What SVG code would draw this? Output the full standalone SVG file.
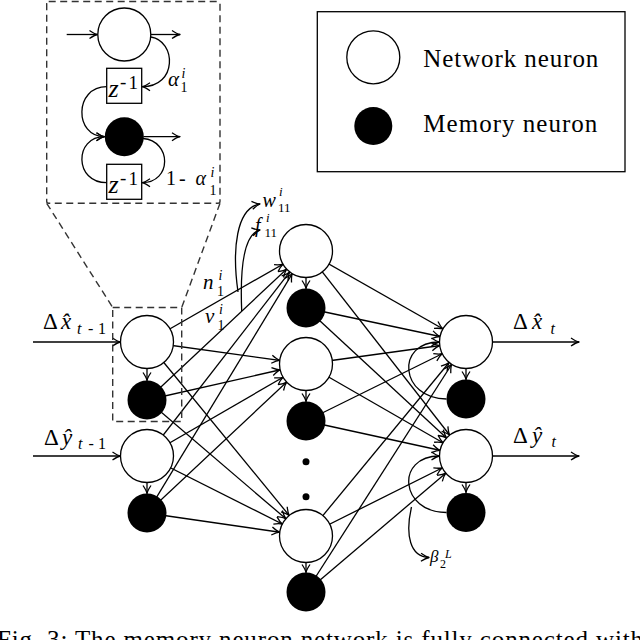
<svg xmlns="http://www.w3.org/2000/svg" width="640" height="640" viewBox="0 0 640 640">
<defs>
<style>
.ln{stroke:#000;stroke-width:1.3;fill:none}
.nn{fill:#fff;stroke:#000;stroke-width:1.3}
.mn{fill:#000}
.dash{stroke:#333;stroke-width:1.4;fill:none;stroke-dasharray:7 4.5}
.t{font-family:"Liberation Serif","Times New Roman",serif;fill:#000}
.i{font-style:italic}
</style>
<marker id="a" markerUnits="userSpaceOnUse" viewBox="-10 -6 12 12" markerWidth="12" markerHeight="12" refX="0" refY="0" orient="auto" overflow="visible">
<path d="M-8,-4 Q-3,-0.6 0,0 Q-3,0.6 -8,4" fill="none" stroke="#000" stroke-width="1.3" stroke-linejoin="round"/>
</marker>
<marker id="an" markerUnits="userSpaceOnUse" viewBox="-40 -6 50 12" markerWidth="50" markerHeight="12" refX="0" refY="0" orient="auto" overflow="visible">
<path d="M-34.5,-4 Q-29.5,-0.6 -26.5,0 Q-29.5,0.6 -34.5,4" fill="none" stroke="#000" stroke-width="1.3" stroke-linejoin="round"/>
</marker>
</defs>
<rect x="0" y="0" width="640" height="640" fill="#fff"/>

<g id="connectors">
<line class="ln" x1="147" y1="342" x2="306" y2="251" marker-end="url(#an)"/>
<line class="ln" x1="147" y1="342" x2="306" y2="364" marker-end="url(#an)"/>
<line class="ln" x1="147" y1="342" x2="306" y2="536" marker-end="url(#an)"/>
<line class="ln" x1="147" y1="400" x2="306" y2="251" marker-end="url(#an)"/>
<line class="ln" x1="147" y1="400" x2="306" y2="364" marker-end="url(#an)"/>
<line class="ln" x1="147" y1="400" x2="306" y2="536" marker-end="url(#an)"/>
<line class="ln" x1="147" y1="456" x2="306" y2="251" marker-end="url(#an)"/>
<line class="ln" x1="147" y1="456" x2="306" y2="364" marker-end="url(#an)"/>
<line class="ln" x1="147" y1="456" x2="306" y2="536" marker-end="url(#an)"/>
<line class="ln" x1="147" y1="513" x2="306" y2="251" marker-end="url(#an)"/>
<line class="ln" x1="147" y1="513" x2="306" y2="364" marker-end="url(#an)"/>
<line class="ln" x1="147" y1="513" x2="306" y2="536" marker-end="url(#an)"/>
<line class="ln" x1="306" y1="251" x2="466" y2="342" marker-end="url(#an)"/>
<line class="ln" x1="306" y1="251" x2="466" y2="456" marker-end="url(#an)"/>
<line class="ln" x1="306" y1="308" x2="466" y2="342" marker-end="url(#an)"/>
<line class="ln" x1="306" y1="308" x2="466" y2="456" marker-end="url(#an)"/>
<line class="ln" x1="306" y1="364" x2="466" y2="342" marker-end="url(#an)"/>
<line class="ln" x1="306" y1="364" x2="466" y2="456" marker-end="url(#an)"/>
<line class="ln" x1="306" y1="421" x2="466" y2="342" marker-end="url(#an)"/>
<line class="ln" x1="306" y1="421" x2="466" y2="456" marker-end="url(#an)"/>
<line class="ln" x1="306" y1="536" x2="466" y2="342" marker-end="url(#an)"/>
<line class="ln" x1="306" y1="536" x2="466" y2="456" marker-end="url(#an)"/>
<line class="ln" x1="306" y1="592" x2="466" y2="342" marker-end="url(#an)"/>
<line class="ln" x1="306" y1="592" x2="466" y2="456" marker-end="url(#an)"/>
<line class="ln" x1="147" y1="368.5" x2="147" y2="380.5" marker-end="url(#a)"/>
<line class="ln" x1="147" y1="482.5" x2="147" y2="493.5" marker-end="url(#a)"/>
<line class="ln" x1="306" y1="277.5" x2="306" y2="288.5" marker-end="url(#a)"/>
<line class="ln" x1="306" y1="390.5" x2="306" y2="401.5" marker-end="url(#a)"/>
<line class="ln" x1="306" y1="562.5" x2="306" y2="572.5" marker-end="url(#a)"/>
<line class="ln" x1="466" y1="368.5" x2="466" y2="379.5" marker-end="url(#a)"/>
<line class="ln" x1="466" y1="482.5" x2="466" y2="492.5" marker-end="url(#a)"/>
<line class="ln" x1="33" y1="342" x2="120.5" y2="342" marker-end="url(#a)"/>
<line class="ln" x1="33" y1="456" x2="120.5" y2="456" marker-end="url(#a)"/>
<line class="ln" x1="492.5" y1="342" x2="579" y2="342" marker-end="url(#a)"/>
<line class="ln" x1="492.5" y1="456" x2="579" y2="456" marker-end="url(#a)"/>
<path class="ln" d="M446.5,399 C400,399 395,342 439.5,342" marker-end="url(#a)"/>
<path class="ln" d="M446.5,512.5 C400,512.5 395,456 439.5,456" marker-end="url(#a)"/>
<path class="ln" d="M411.5,507 C405,535 410,557 429,557.5" marker-end="url(#a)"/>
<path class="ln" d="M238,292 C232,250 236,208 260,204" marker-end="url(#a)"/>
<path class="ln" d="M241.7,311 C240,270 243,234 260,230" marker-end="url(#a)"/>
<rect class="dash" x="112.7" y="307.5" width="69" height="114"/>
<line class="dash" x1="46.7" y1="203.3" x2="112.7" y2="307.5"/>
<line class="dash" x1="220" y1="203.3" x2="181.7" y2="307.5"/>
</g>

<g id="inset">
<rect class="dash" x="46.7" y="1.5" width="173.3" height="201.8" rx="2"/>
<line class="ln" x1="66.7" y1="34.5" x2="97.5" y2="34.5" marker-end="url(#a)"/>
<line class="ln" x1="150.5" y1="34.5" x2="180" y2="34.5" marker-end="url(#a)"/>
<line class="ln" x1="143.5" y1="136.7" x2="180" y2="136.7" marker-end="url(#a)"/>
<path class="ln" d="M151,37 C176,41 178,86.7 142,86.7" marker-end="url(#a)"/>
<path class="ln" d="M106.7,86.7 C74,86.7 74,136.7 104.5,136.7" marker-end="url(#a)"/>
<path class="ln" d="M143,138.5 C172,141 172,182.7 142,182.7" marker-end="url(#a)"/>
<path class="ln" d="M106.7,182.7 C74,182.7 74,136.7 104.5,136.7" marker-end="url(#a)"/>
<circle class="nn" cx="124.3" cy="34.5" r="26.5"/>
<circle class="mn" cx="124.3" cy="136.7" r="19.5"/>
<rect class="nn" x="106.7" y="68.3" width="35" height="35"/>
<rect class="nn" x="106.7" y="164.3" width="35" height="35"/>
<text class="t" font-size="26"><tspan class="i" x="108.5" y="97">z</tspan><tspan font-size="19" x="120" y="88">-</tspan><tspan font-size="19" x="128.5" y="89">1</tspan></text>
<text class="t" font-size="26"><tspan class="i" x="108.5" y="193">z</tspan><tspan font-size="19" x="120" y="184">-</tspan><tspan font-size="19" x="128.5" y="185">1</tspan></text>
<text class="t" font-size="21"><tspan class="i" x="168" y="86">α</tspan><tspan font-size="14" x="180.5" y="91.5">1</tspan><tspan class="i" font-size="14" x="181.5" y="78">i</tspan></text>
<text class="t" font-size="20"><tspan x="166" y="185">1</tspan><tspan x="179" y="185">-</tspan><tspan class="i" x="195.5" y="185">α</tspan><tspan font-size="14" x="209.5" y="195">1</tspan><tspan class="i" font-size="14" x="210.5" y="177">i</tspan></text>
</g>

<g id="legend">
<rect x="317.3" y="11.7" width="307.7" height="160" fill="none" stroke="#000" stroke-width="1.3"/>
<circle class="nn" cx="373.3" cy="57.3" r="26.5"/>
<circle class="mn" cx="373.3" cy="126" r="19"/>
<text class="t" x="423.3" y="66.7" font-size="25" textLength="175" lengthAdjust="spacing">Network neuron</text>
<text class="t" x="423.3" y="131.7" font-size="25" textLength="174" lengthAdjust="spacing">Memory neuron</text>
</g>

<g id="in-x"><circle class="nn" cx="147" cy="342" r="26.5"/></g>
<g id="in-x-mem"><circle class="mn" cx="147" cy="400" r="19.5"/></g>
<g id="in-y"><circle class="nn" cx="147" cy="456" r="26.5"/></g>
<g id="in-y-mem"><circle class="mn" cx="147" cy="513" r="19.5"/></g>
<g id="h1"><circle class="nn" cx="306" cy="251" r="26.5"/></g>
<g id="h1-mem"><circle class="mn" cx="306" cy="308" r="19.5"/></g>
<g id="h2"><circle class="nn" cx="306" cy="364" r="26.5"/></g>
<g id="h2-mem"><circle class="mn" cx="306" cy="421" r="19.5"/></g>
<g id="dots"><circle class="mn" cx="306" cy="461.7" r="3.5"/><circle class="mn" cx="306" cy="496.7" r="3.5"/></g>
<g id="h3"><circle class="nn" cx="306" cy="536" r="26.5"/></g>
<g id="h3-mem"><circle class="mn" cx="306" cy="592" r="19.5"/></g>
<g id="out-x"><circle class="nn" cx="466" cy="342" r="26.5"/></g>
<g id="out-x-mem"><circle class="mn" cx="466" cy="399" r="19.5"/></g>
<g id="out-y"><circle class="nn" cx="466" cy="456" r="26.5"/></g>
<g id="out-y-mem"><circle class="mn" cx="466" cy="512.5" r="19.5"/></g>

<g id="labels">
<text class="t" font-size="23"><tspan x="43" y="329">Δ</tspan><tspan class="i" x="61" y="329">x̂</tspan><tspan font-size="16" class="i" x="77" y="334">t</tspan><tspan font-size="16" x="88" y="334">-</tspan><tspan font-size="16" x="98" y="334">1</tspan></text>
<text class="t" font-size="23"><tspan x="44" y="445">Δ</tspan><tspan class="i" x="62" y="445">ŷ</tspan><tspan font-size="16" class="i" x="78" y="449">t</tspan><tspan font-size="16" x="88.5" y="449">-</tspan><tspan font-size="16" x="98" y="449">1</tspan></text>
<text class="t" font-size="23"><tspan x="513" y="329">Δ</tspan><tspan class="i" x="532" y="329">x̂</tspan><tspan font-size="16" class="i" x="550.5" y="334">t</tspan></text>
<text class="t" font-size="23"><tspan x="513" y="442.5">Δ</tspan><tspan class="i" x="532" y="442.5">ŷ</tspan><tspan font-size="16" class="i" x="551.5" y="447">t</tspan></text>
<text class="t" font-size="20"><tspan class="i" x="262.5" y="206.5">w</tspan><tspan font-size="13" x="278" y="212">11</tspan><tspan class="i" font-size="13" x="279" y="196">i</tspan></text>
<text class="t" font-size="20"><tspan class="i" x="255" y="232">f</tspan><tspan font-size="13" x="264.5" y="237">11</tspan><tspan class="i" font-size="13" x="266" y="222">i</tspan></text>
<text class="t" font-size="21"><tspan class="i" x="203" y="289">n</tspan><tspan font-size="14" x="217" y="296">1</tspan><tspan class="i" font-size="14" x="218.5" y="280">i</tspan></text>
<text class="t" font-size="21"><tspan class="i" x="205" y="323">v</tspan><tspan font-size="14" x="217.5" y="330">1</tspan><tspan class="i" font-size="14" x="219" y="314">i</tspan></text>
<text class="t" font-size="17"><tspan class="i" x="430" y="562">β</tspan><tspan font-size="12" x="440" y="568">2</tspan><tspan class="i" font-size="12" x="445" y="558">L</tspan></text>
</g>

<text class="t" x="-3" y="648" font-size="25" textLength="646" lengthAdjust="spacing">Fig. 3: The memory neuron network is fully connected with</text>
</svg>
